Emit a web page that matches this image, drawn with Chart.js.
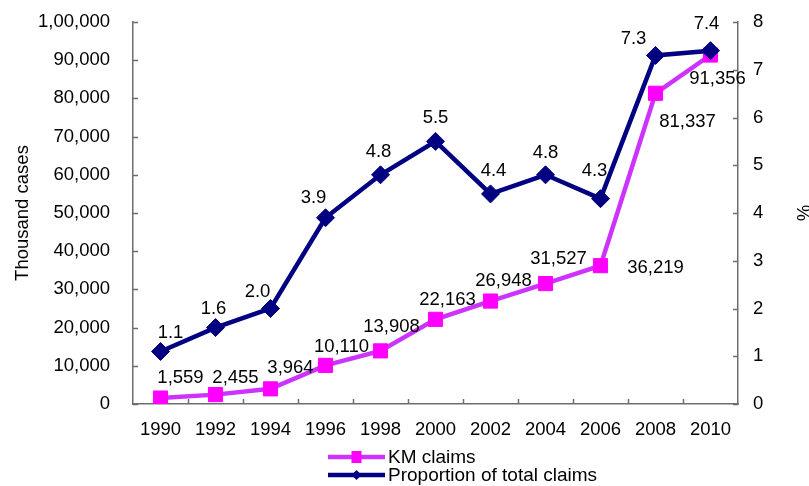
<!DOCTYPE html>
<html>
<head>
<meta charset="utf-8">
<script src="https://cdn.jsdelivr.net/npm/chart.js@4.4.1/dist/chart.umd.min.js"></script>
<style>
  html, body { margin: 0; padding: 0; background: #fff; }
  #wrap { width: 809px; height: 486px; }
</style>
</head>
<body>
<div id="wrap"><canvas id="claimsChart" width="809" height="486"></canvas></div>
<script>
const years = ['1990', '1992', '1994', '1996', '1998', '2000', '2002', '2004', '2006', '2008', '2010'];
const kmClaims = [1559, 2455, 3964, 10110, 13908, 22163, 26948, 31527, 36219, 81337, 91356];
const proportionOfTotal = [1.1, 1.6, 2.0, 3.9, 4.8, 5.5, 4.4, 4.8, 4.3, 7.3, 7.4];
const leftAxisMax = 100000;
const leftAxisStep = 10000;
const rightAxisMax = 8;
const rightAxisStep = 1;

// label nudges (px) relative to each point, as placed in the original
const kmLabelShift = [[20, -20], [20, -17], [20, -21], [16, -18], [11, -24], [12, -19], [13, -20], [13, -25], [55, 2], [32, 29], [7, 24]];
const propLabelShift = [[10, -19], [-2, -19], [-13, -17], [-12, -20], [-2, -23], [0, -23], [3, -23], [0, -22], [-6, -28], [-22, -17], [-4, -27]];

const FONT = '"Liberation Sans", Arial, sans-serif';
const MAGENTA = '#ff00ff';
const MAGENTA_LINE = '#cc33ff';
const NAVY = '#000080';
const AXIS = '#6e6e6e';

// 1,00,000 style grouping
function indianFormat(v) {
  const s = String(Math.round(v));
  if (s.length <= 3) return s;
  const last3 = s.slice(-3);
  let rest = s.slice(0, -3);
  const parts = [];
  while (rest.length > 2) {
    parts.unshift(rest.slice(-2));
    rest = rest.slice(0, -2);
  }
  if (rest) parts.unshift(rest);
  return parts.join(',') + ',' + last3;
}

const insideTicks = {
  id: 'insideTicks',
  afterDraw(chart) {
    const ctx = chart.ctx;
    const { y, y1, x } = chart.scales;
    ctx.save();
    ctx.strokeStyle = AXIS;
    ctx.lineWidth = 1.5;
    ctx.beginPath();
    y.ticks.forEach(t => {
      const py = Math.round(y.getPixelForValue(t.value)) + 0.5;
      ctx.moveTo(y.right, py);
      ctx.lineTo(y.right + 5, py);
    });
    y1.ticks.forEach(t => {
      const py = Math.round(y1.getPixelForValue(t.value)) + 0.5;
      ctx.moveTo(y1.left, py);
      ctx.lineTo(y1.left - 5, py);
    });
    const half = (x.getPixelForValue(1) - x.getPixelForValue(0)) / 2;
    for (let i = 1; i < years.length; i++) {
      const px = Math.round(x.getPixelForValue(i) - half) + 0.5;
      ctx.moveTo(px, x.top);
      ctx.lineTo(px, x.top - 5);
    }
    ctx.stroke();
    ctx.restore();
  }
};

const pointLabels = {
  id: 'pointLabels',
  afterDatasetsDraw(chart) {
    const ctx = chart.ctx;
    ctx.save();
    ctx.font = '18.5px ' + FONT;
    ctx.fillStyle = '#000';
    ctx.textAlign = 'center';
    ctx.textBaseline = 'middle';
    chart.data.datasets.forEach((ds, di) => {
      const meta = chart.getDatasetMeta(di);
      const shifts = di === 0 ? kmLabelShift : propLabelShift;
      meta.data.forEach((pt, i) => {
        const v = ds.data[i];
        const txt = di === 0 ? v.toLocaleString('en-US') : v.toFixed(1);
        ctx.fillText(txt, pt.x + shifts[i][0], pt.y + shifts[i][1]);
      });
    });
    ctx.restore();
  }
};

const lineLegend = {
  id: 'lineLegend',
  afterDraw(chart) {
    const ctx = chart.ctx;
    const x0 = 328, x1 = 385, rows = [457, 475];
    ctx.save();
    chart.data.datasets.forEach((ds, i) => {
      const yy = rows[i];
      ctx.strokeStyle = ds.borderColor;
      ctx.lineWidth = 4.5;
      ctx.beginPath();
      ctx.moveTo(x0, yy);
      ctx.lineTo(x1, yy);
      ctx.stroke();
      ctx.fillStyle = ds.pointBackgroundColor;
      const cx = (x0 + x1) / 2;
      if (ds.pointStyle === 'rect') {
        ctx.fillRect(cx - 5, yy - 6, 10, 12);
      } else {
        ctx.beginPath();
        ctx.moveTo(cx - 5, yy);
        ctx.lineTo(cx, yy - 5);
        ctx.lineTo(cx + 5, yy);
        ctx.lineTo(cx, yy + 5);
        ctx.closePath();
        ctx.fill();
      }
      ctx.fillStyle = '#000';
      ctx.font = '19px ' + FONT;
      ctx.textAlign = 'left';
      ctx.textBaseline = 'middle';
      ctx.fillText(ds.label, x1 + 3, yy + 1);
    });
    ctx.restore();
  }
};

// fixed axis box sizes so the plot area lands where the original has it
function fixWidth(w) {
  return scale => {
    scale.width = w;
    scale.paddingTop = 0;
    scale.paddingBottom = 0;
  };
}

const ctx = document.getElementById('claimsChart').getContext('2d');
const chart = new Chart(ctx, {
  type: 'line',
  data: {
    labels: years,
    datasets: [
      {
        label: 'KM claims',
        data: kmClaims,
        yAxisID: 'y',
        borderColor: MAGENTA_LINE,
        borderWidth: 4.5,
        pointStyle: 'rect',
        pointRadius: 10,
        pointBackgroundColor: MAGENTA,
        pointBorderColor: MAGENTA,
        pointBorderWidth: 1,
        tension: 0,
        order: 2
      },
      {
        label: 'Proportion of total claims',
        data: proportionOfTotal,
        yAxisID: 'y1',
        borderColor: NAVY,
        borderWidth: 4.5,
        pointStyle: 'rectRot',
        pointRadius: 9,
        pointBackgroundColor: NAVY,
        pointBorderColor: NAVY,
        pointBorderWidth: 1,
        tension: 0,
        order: 1
      }
    ]
  },
  options: {
    responsive: false,
    animation: false,
    layout: { padding: { top: 22, left: 0, right: 0, bottom: 0 } },
    plugins: {
      legend: { display: false },
      tooltip: { enabled: false }
    },
    scales: {
      x: {
        offset: true,
        grid: { display: true, drawOnChartArea: false, drawTicks: false },
        border: { display: true, color: AXIS, width: 1.5 },
        ticks: { color: '#000', font: { family: FONT, size: 18.5 }, padding: 15, maxRotation: 0 },
        afterFit(scale) {
          scale.height = 82;
          scale.paddingLeft = 0;
          scale.paddingRight = 0;
        }
      },
      y: {
        position: 'left',
        min: 0,
        max: leftAxisMax,
        grid: { display: true, drawOnChartArea: false, drawTicks: false },
        border: { display: true, color: AXIS, width: 1.5 },
        ticks: {
          stepSize: leftAxisStep,
          color: '#000',
          font: { family: FONT, size: 18.5 },
          padding: 23,
          callback: v => indianFormat(v)
        },
        title: {
          display: true,
          text: 'Thousand cases',
          color: '#000',
          font: { family: FONT, size: 18.5 },
          padding: { top: 12, bottom: 0 }
        },
        afterFit: fixWidth(133)
      },
      y1: {
        position: 'right',
        min: 0,
        max: rightAxisMax,
        grid: { display: true, drawOnChartArea: false, drawTicks: false },
        border: { display: true, color: AXIS, width: 1.5 },
        ticks: {
          stepSize: rightAxisStep,
          color: '#000',
          font: { family: FONT, size: 18.5 },
          padding: 15
        },
        title: {
          display: true,
          text: '%',
          color: '#000',
          font: { family: FONT, size: 18.5 },
          padding: { top: -4, bottom: 0 }
        },
        afterFit: fixWidth(71)
      }
    }
  },
  plugins: [insideTicks, pointLabels, lineLegend]
});
</script>
</body>
</html>
